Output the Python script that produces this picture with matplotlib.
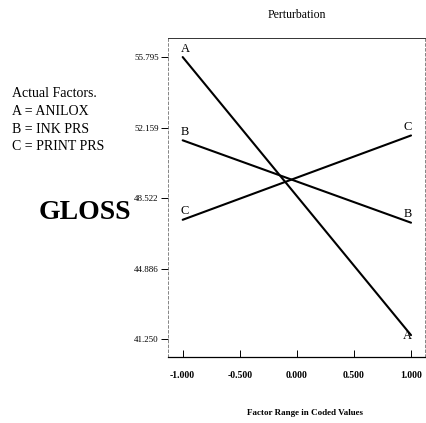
import numpy as np
import matplotlib
matplotlib.use('Agg')
import matplotlib.pyplot as plt

plt.rcParams['font.family'] = ['Liberation Serif', 'DejaVu Serif']

# coded factor range
x_coded = [-1.0, 1.0]
# perturbation lines (GLOSS at -1 and +1)
factor_names = ['A', 'B', 'C']
factor_full = ['ANILOX', 'INK PRS', 'PRINT PRS']
gloss_vals = {
    'A': [55.795, 41.45],
    'B': [51.50, 47.25],
    'C': [47.40, 51.75],
}
y_ticks = [41.250, 44.886, 48.522, 52.159, 55.795]
x_ticks = [-1.0, -0.5, 0.0, 0.5, 1.0]

fig = plt.figure(figsize=(4.26, 4.23), dpi=100)
ax = fig.add_axes([0.394, 0.156, 0.603, 0.754])

for name in factor_names:
    y = gloss_vals[name]
    ax.plot(x_coded, y, color='black', lw=1.5, solid_capstyle='round')
    ax.text(x_coded[0] - 0.02, y[0] + 0.12, name, ha='left', va='bottom', fontsize=9)
    if name == 'A':
        ax.text(x_coded[1] + 0.01, y[1] - 0.05, name, ha='right', va='center', fontsize=9)
    else:
        ax.text(x_coded[1] + 0.01, y[1] + 0.12, name, ha='right', va='bottom', fontsize=9)

ax.set_xlim(-1.13, 1.12)
ax.set_ylim(40.32, 56.775)
ax.set_yticks(y_ticks)
ax.set_yticklabels(['%.3f' % v for v in y_ticks], fontsize=6.5)
ax.set_xticks(x_ticks)
ax.set_xticklabels(['%.3f' % v for v in x_ticks], fontsize=7, fontweight='bold')
ax.tick_params(axis='y', direction='out', length=5, width=0.7, pad=1.5)
ax.tick_params(axis='x', direction='in', length=5, width=0.7, pad=10)

for s in ['left', 'right']:
    ax.spines[s].set_linestyle((0, (4, 3)))
    ax.spines[s].set_linewidth(0.5)
    ax.spines[s].set_color('#555555')
ax.spines['top'].set_linewidth(0.7)
ax.spines['top'].set_color('#333333')
ax.spines['bottom'].set_linewidth(0.9)

fig.text(0.697, 0.965, 'Perturbation', ha='center', va='center', fontsize=8.5)
fig.text(0.715, 0.024, 'Factor Range in Coded Values', ha='center', va='center',
         fontsize=6.5, fontweight='bold')

fig.text(0.028, 0.780, 'Actual Factors.', ha='left', va='center', fontsize=10)
for i, name in enumerate(factor_names):
    fig.text(0.028, 0.736 - i * 0.041, '%s = %s' % (name, factor_full[i]),
             ha='left', va='center', fontsize=10)

fig.text(0.2, 0.497, 'GLOSS', ha='center', va='center', fontsize=20, fontweight='bold')

fig.savefig('out.png', dpi=100)
